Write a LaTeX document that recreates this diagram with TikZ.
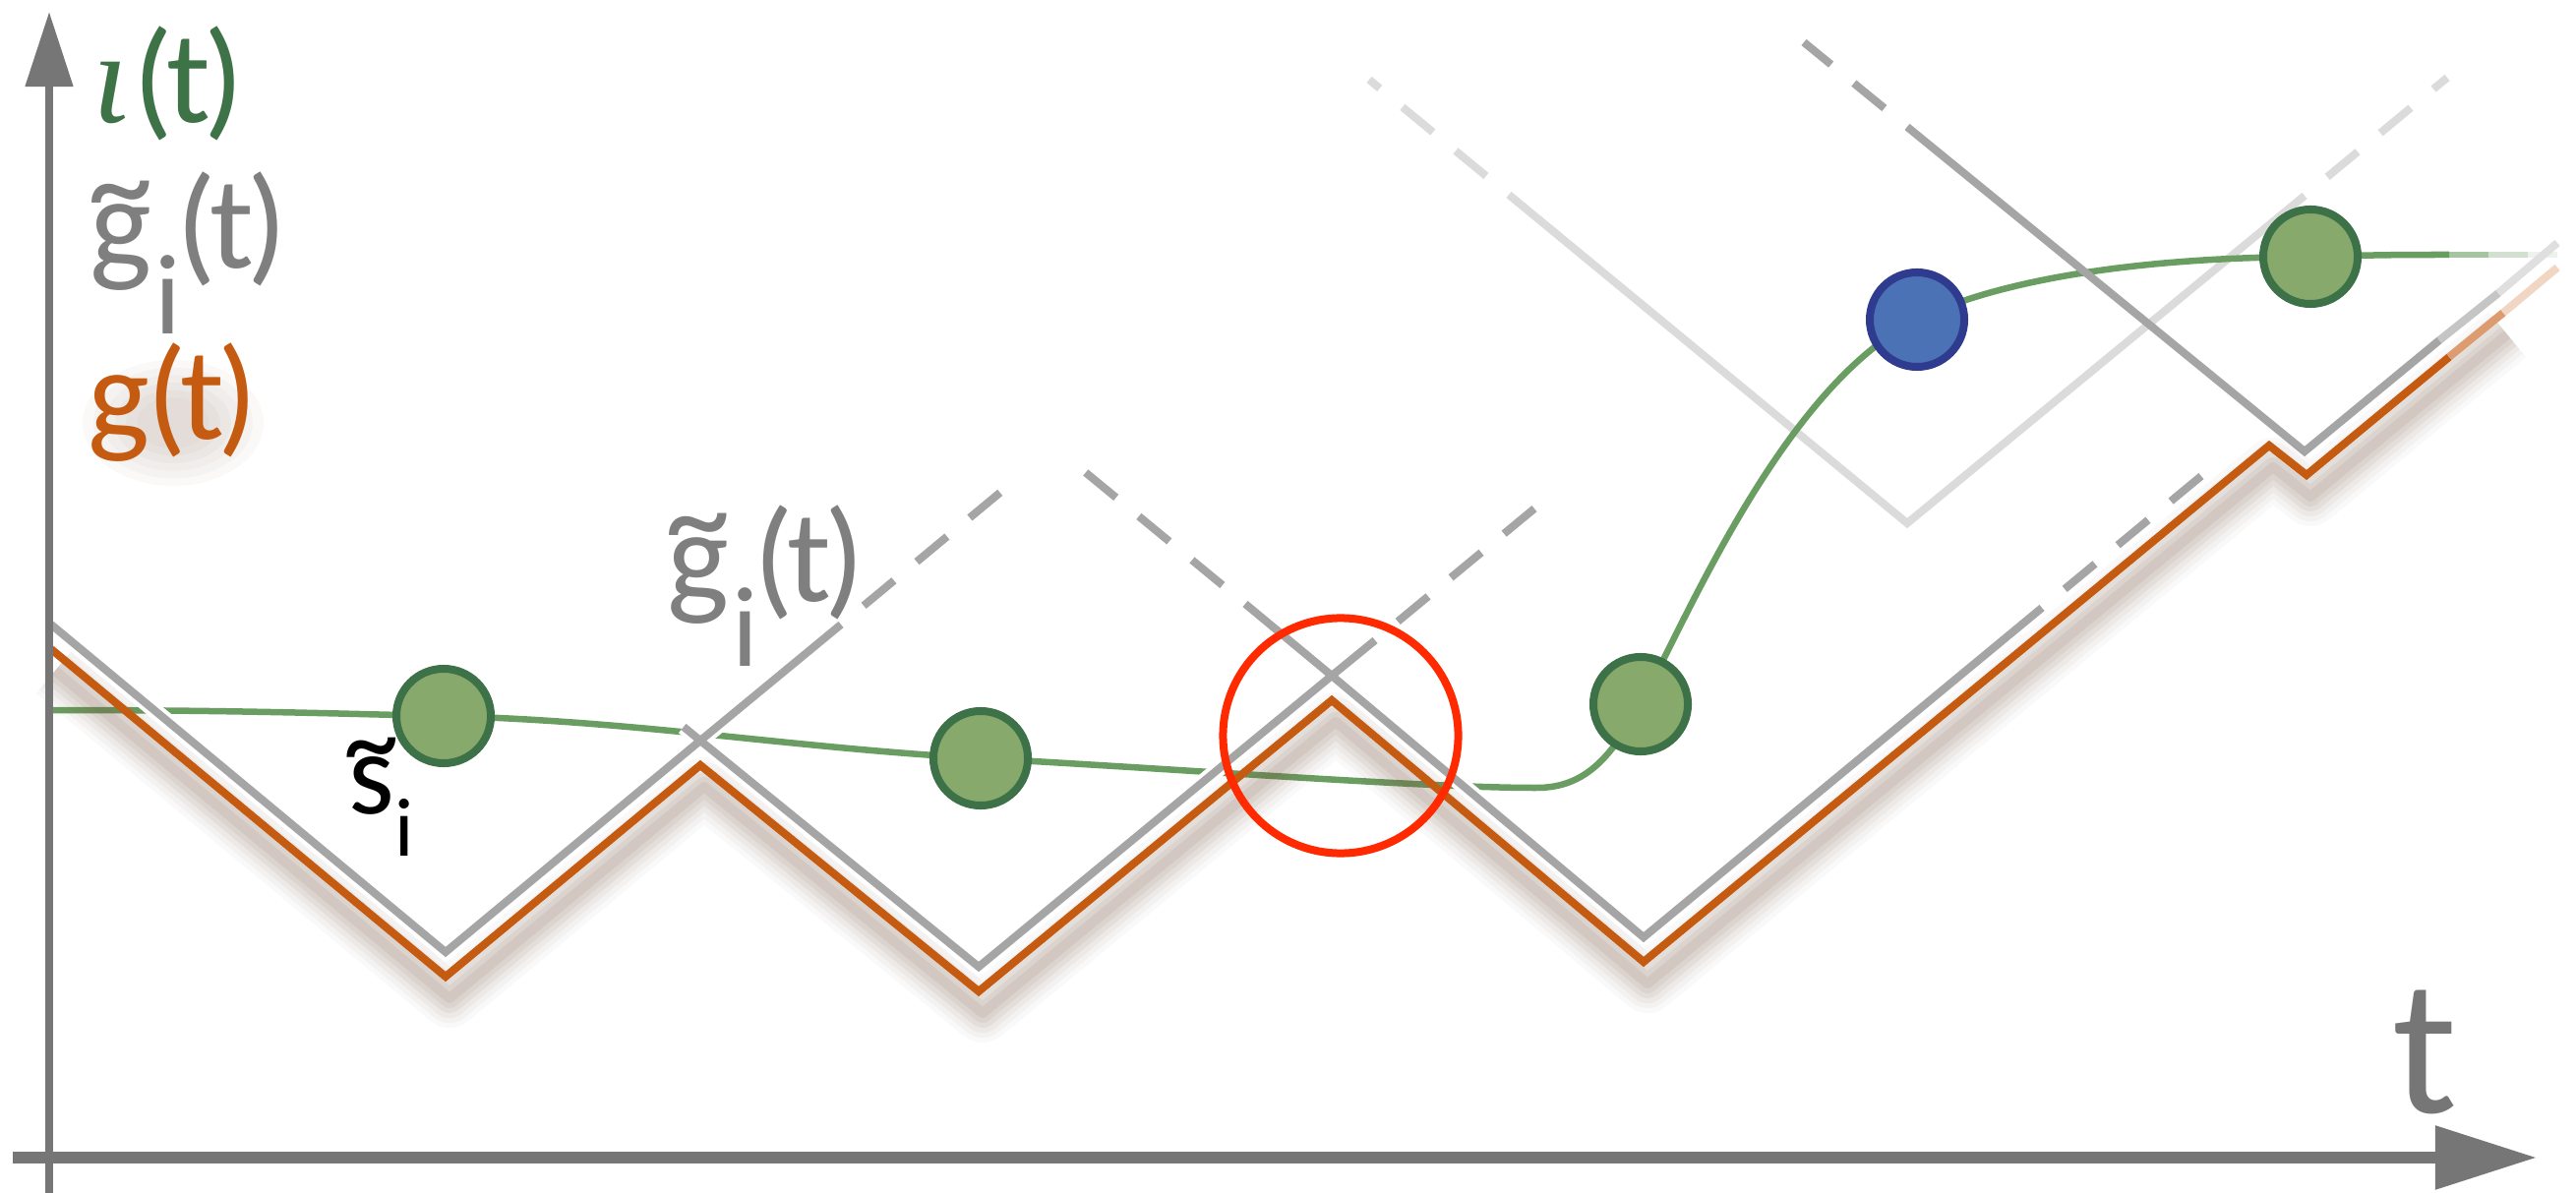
\documentclass[tikz,border=0pt]{standalone}
\usepackage{graphicx}
\usepackage{fontspec}
\setmainfont{Carlito}
\newfontfamily\iotafont{Liberation Serif}
\usetikzlibrary{arrows.meta}
\definecolor{orng}{HTML}{C55A11}
\definecolor{gline}{HTML}{A5A5A5}
\definecolor{lline}{HTML}{DBDBDB}
\definecolor{gtxt}{HTML}{7F7F7F}
\definecolor{axisc}{HTML}{767676}
\definecolor{crv}{HTML}{6A9D62}
\definecolor{cfill}{HTML}{87A96B}
\definecolor{cbord}{HTML}{3D7148}
\definecolor{bfill}{HTML}{4A72B5}
\definecolor{bbord}{HTML}{2E3B8F}
\definecolor{redc}{HTML}{FF2A00}
\definecolor{shad}{HTML}{7A5540}
\definecolor{itxt}{HTML}{3E7247}
\newcommand\tildeover[3]{\ooalign{#3\cr\hidewidth\raisebox{#1}{\scalebox{#2}[1]{\textasciitilde}}\hidewidth\cr}}
\newcommand\argt{(\kern-0.05em t\kern-0.05em)}
\newcommand\gtilabel{\tildeover{0.30em}{1.0}{g}\kern0.02em\raisebox{-0.5em}{\fontsize{33}{40}\selectfont i}\kern-0.03em\argt}
\begin{document}
\begin{tikzpicture}[x=0.01cm,y=-0.01cm,
  gl/.style={draw=gline,line width=0.08cm},
  ll/.style={draw=lline,line width=0.08cm},
  dsh/.style={dash pattern=on 0.4cm off 0.3cm,dash phase=0.4cm},
  orl/.style={draw=orng,line width=0.08cm,line join=miter},
  crvs/.style={draw=crv,line width=0.065cm},
  gdot/.style={circle,fill=cfill,draw=cbord,line width=0.08cm,minimum size=0.96cm,inner sep=0pt},
  bdot/.style={circle,fill=bfill,draw=bbord,line width=0.08cm,minimum size=0.96cm,inner sep=0pt},
  ring/.style={circle,draw=redc,line width=0.08cm,minimum size=2.39cm,inner sep=0pt},
  lab/.style={inner sep=0pt,anchor=base west,font=\fontsize{38}{45}\selectfont},
]
\useasboundingbox (0,0) rectangle (2619,1213);
\fill[white] (0,0) rectangle (2619,1213);
% orange g(t)
\coordinate (o0) at (52,660); \coordinate (o1) at (453,993); \coordinate (o2) at (712,778);
\coordinate (o3) at (995,1008); \coordinate (o4) at (1354,712); \coordinate (o5) at (1671,978);
\coordinate (o6) at (2307,453); \coordinate (o7) at (2345,483); \coordinate (o8) at (2490,363);
\coordinate (o9) at (2545,318); \coordinate (o10) at (2600,272);
% gray main
\coordinate (g0) at (52,635); \coordinate (g1) at (453,968); \coordinate (g2) at (712,753);
\coordinate (g3) at (995,983); \coordinate (g4) at (1354,687); \coordinate (g5) at (1671,953);
\coordinate (g6) at (2076,618); \coordinate (g6d) at (2238,484);
\coordinate (a1) at (855,635); \coordinate (a2) at (1025,494); \coordinate (stub) at (695,739);
\coordinate (c1s) at (1398,651); \coordinate (c2s) at (1565,513);
\coordinate (d1) at (1266,614); \coordinate (d2) at (1102,479);
\coordinate (f0) at (1834,43); \coordinate (f1) at (1939,129); \coordinate (f2) at (2343,459);
\coordinate (f3) at (2480,346); \coordinate (f4) at (2540,298); \coordinate (f5) at (2600,247);
\coordinate (l0) at (1392,81); \coordinate (l1) at (1534,198); \coordinate (l2) at (1939,532);
\coordinate (l3) at (2343,199); \coordinate (l4) at (2488,79);
% circle centres
\coordinate (p1) at (451,728); \coordinate (p2) at (997,771); \coordinate (p3) at (1668,716);
\coordinate (pb) at (1949,325); \coordinate (p4) at (2349,261);
% light gray cone
\draw[ll,line join=miter] (l1)--(l2)--(l3);
\draw[ll,dsh] (l1)--(l0);
\draw[ll,dsh] (l3)--(l4);
% green curve iota(t)
\draw[crvs] (52,722) .. controls (250,722) and (350,726) .. (p1)
  .. controls (650,733) and (800,760) .. (p2)
  .. controls (1200,782) and (1450,801) .. (1560,801)
  .. controls (1615,802) and (1640,765) .. (p3)
  .. controls (1718,622) and (1815,392) .. (pb)
  .. controls (2020,290) and (2150,262) .. (p4)
  .. controls (2420,259) and (2450,259) .. (2490,259);
\draw[crvs,opacity=0.6] (2490,259)--(2530,259);
\draw[crvs,opacity=0.3] (2530,259)--(2570,259);
\draw[crvs,opacity=0.12] (2570,259)--(2600,259);
% F line
\draw[gl,line join=miter] (f1)--(f2)--(f3);
\draw[gl,draw=gline!65] (f3)--(f4);
\draw[gl,draw=gline!35] (f4)--(f5);
\draw[gl,dsh] (f1)--(f0);
% dashed gray extensions
\draw[gl,dsh] (a1)--(a2);
\draw[gl,dsh] (c1s)--(c2s);
\draw[gl,dsh] (d1)--(d2);
\draw[gl,dsh] (g6)--(g6d);
% shadow of g(t)
\begin{scope}[transform canvas={shift={(4,22)}}]
\foreach \w/\o in {0.60/0.03,0.50/0.04,0.40/0.05,0.30/0.07,0.20/0.08,0.10/0.09}{
  \draw[shad,line width=\w cm,opacity=\o,line join=round]
   (o0)--(o1)--(o2)--(o3)--(o4)--(o5)--(o6)--(o7)--(o9);
}
\end{scope}
% orange g(t)
\draw[orl] (o0)--(o1)--(o2)--(o3)--(o4)--(o5)--(o6)--(o7)--(o8);
\draw[orl,draw=orng!60] (o8)--(o9);
\draw[orl,draw=orng!25] (o9)--(o10);
% gray main with white halo
\draw[white,line width=0.16cm,line join=miter] (g0)--(g1)--(g2)--(g3)--(g4)--(g5)--(g6);
\draw[white,line width=0.16cm] (g2)--(a1) (g4)--(c1s) (d1)--(g4) (stub)--(g2);
\draw[gl,line join=miter] (g0)--(g1)--(g2)--(g3)--(g4)--(g5)--(g6);
\draw[gl] (g2)--(a1) (g4)--(c1s) (d1)--(g4) (stub)--(g2);
% sample points
\node[gdot] (c1) at (p1) {};
\node[gdot] (c2) at (p2) {};
\node[gdot] (c3) at (p3) {};
\node[bdot] (cb) at (pb) {};
\node[gdot] (c4) at (p4) {};
\node[ring] (rc) at (1363,748) {};
% axes
\coordinate (yb) at (50,1213); \coordinate (yt) at (50,12);
\coordinate (xl) at (13,1177); \coordinate (xr) at (2579,1177);
\draw[axisc,line width=0.08cm,-{Triangle[length=0.76cm,width=0.47cm]}] (yb)--(yt);
\draw[axisc,line width=0.12cm,-{Triangle[length=1.03cm,width=0.62cm]}] (xl)--(xr);
% soft glow behind g(t)
\foreach \r in {1.00,0.88,0.76,0.64,0.52,0.40}{
  \fill[shad,opacity=0.035] (176,430) ellipse ({92*\r} and {64*\r});}
% labels
\node[lab,text=itxt] (liota) at (94,125) {{\iotafont\itshape ι}\kern0.03em\argt};
\node[lab,text=gtxt] (lgt) at (91,273) {\gtilabel};
\node[lab,text=orng] (lg) at (89,447) {g\kern-0.02em\argt};
\node[lab,text=gtxt] (lgt2) at (678,611) {\gtilabel};
\node[lab,text=black,font=\fontsize{34}{40}\selectfont] (ls) at (354,827) {\tildeover{0.28em}{0.95}{s}\kern0.0em\raisebox{-0.36em}{\fontsize{24}{28}\selectfont i}};
\node[lab,text=axisc,font=\fontsize{56}{64}\selectfont] (lt) at (2432,1131) {t};
\end{tikzpicture}
\end{document}
